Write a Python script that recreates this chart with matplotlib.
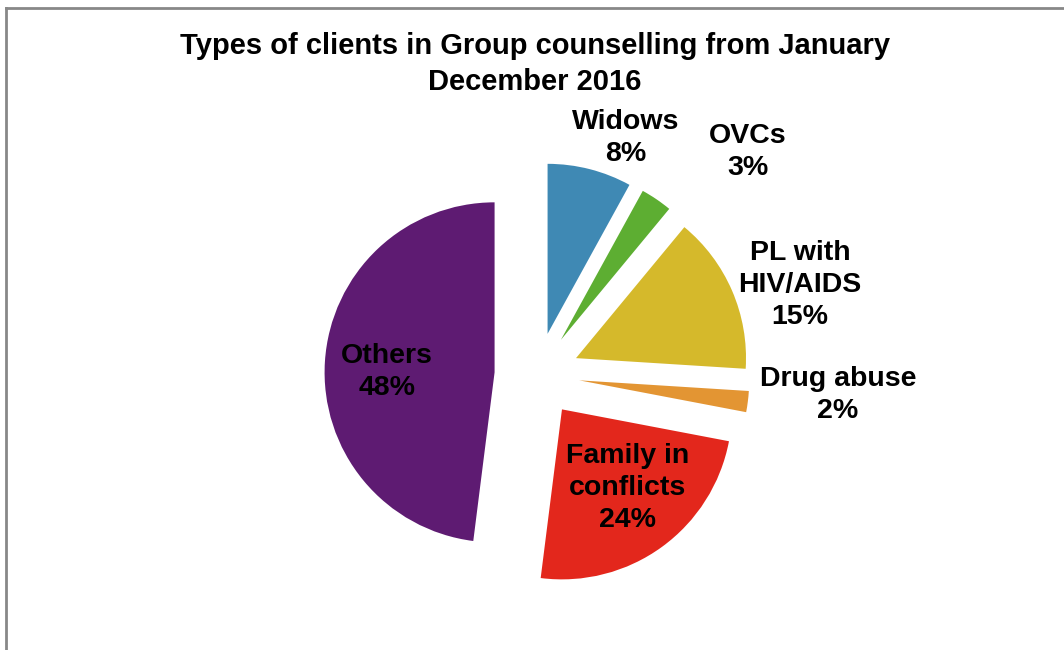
import matplotlib.pyplot as plt
from matplotlib.lines import Line2D

plt.rcParams['font.family'] = ['Liberation Sans', 'DejaVu Sans']

# data
categories = ['Widows', 'OVCs', 'PL with\nHIV/AIDS', 'Drug abuse', 'Family in\nconflicts', 'Others']
values = [8, 3, 15, 2, 24, 48]
colors = ['#3F89B4', '#5DAE32', '#D5B92B', '#E39533', '#E3271C', '#5E1B72']

# label centres (data units, radius = 1)
label_pos = [(0.524, 1.394), (1.241, 1.312), (1.547, 0.529),
             (1.771, -0.118), (0.535, -0.665), (-0.882, 0.018)]

fig = plt.figure(figsize=(10.64, 6.5), dpi=100)
ax = fig.add_axes([0, 0, 1, 1])

cx, cy, rpx = 537, 375, 170
W, H = 1064, 650

wedges, _ = ax.pie(values, colors=colors, startangle=90, counterclock=False,
                   explode=[0.25] * len(values), radius=1,
                   wedgeprops=dict(linewidth=0))

for cat, v, (x, y) in zip(categories, values, label_pos):
    ax.text(x, y, '%s\n%d%%' % (cat, v), ha='center', va='center',
            fontsize=20.5, fontweight='bold', color='black', linespacing=1.32)

ax.set_xlim(-cx / rpx, (W - cx) / rpx)
ax.set_ylim(-(H - cy) / rpx, cy / rpx)
ax.set_aspect('auto')
ax.axis('off')

fig.text(535 / W, 1 - 64 / H, 'Types of clients in Group counselling from January\nDecember 2016',
         ha='center', va='center', fontsize=21, fontweight='bold', linespacing=1.32)

# chart area border (top and left visible)
fig.add_artist(Line2D([6 / W, 6 / W], [0, 1 - 8 / H], color='#888888', lw=2))
fig.add_artist(Line2D([6 / W, 1], [1 - 8 / H, 1 - 8 / H], color='#888888', lw=2))

fig.savefig('out.png', dpi=100)
